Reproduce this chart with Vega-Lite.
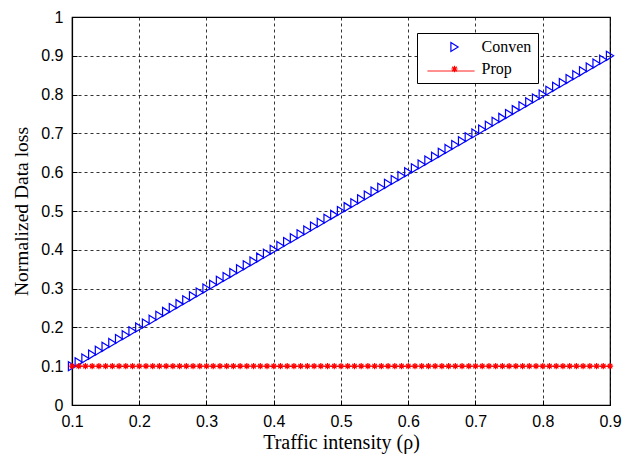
{
  "$schema": "https://vega.github.io/schema/vega-lite/v6.json",
  "width": 538,
  "height": 388,
  "autosize": "none",
  "padding": {"left": 72, "top": 17, "right": 14, "bottom": 53},
  "background": "white",
  "config": {
    "view": {"stroke": "black", "strokeWidth": 1.2},
    "axis": {
      "domainColor": "black", "domainWidth": 1.2,
      "grid": true, "gridColor": "black", "gridDash": [3, 3], "gridOpacity": 1, "gridWidth": 0.8,
      "tickColor": "black", "tickSize": -5, "tickWidth": 1, "labelFlush": false,
      "labelFont": "Liberation Sans", "labelFontSize": 16, "labelColor": "black",
      "titleFont": "Liberation Serif", "titleFontWeight": "normal", "titleColor": "black"
    }
  },
  "datasets": {
    "series": [
      {"series":"Conven","rho":0.10,"loss":0.10},{"series":"Conven","rho":0.11,"loss":0.11},{"series":"Conven","rho":0.12,"loss":0.12},{"series":"Conven","rho":0.13,"loss":0.13},{"series":"Conven","rho":0.14,"loss":0.14},{"series":"Conven","rho":0.15,"loss":0.15},{"series":"Conven","rho":0.16,"loss":0.16},{"series":"Conven","rho":0.17,"loss":0.17},{"series":"Conven","rho":0.18,"loss":0.18},{"series":"Conven","rho":0.19,"loss":0.19},
      {"series":"Conven","rho":0.20,"loss":0.20},{"series":"Conven","rho":0.21,"loss":0.21},{"series":"Conven","rho":0.22,"loss":0.22},{"series":"Conven","rho":0.23,"loss":0.23},{"series":"Conven","rho":0.24,"loss":0.24},{"series":"Conven","rho":0.25,"loss":0.25},{"series":"Conven","rho":0.26,"loss":0.26},{"series":"Conven","rho":0.27,"loss":0.27},{"series":"Conven","rho":0.28,"loss":0.28},{"series":"Conven","rho":0.29,"loss":0.29},
      {"series":"Conven","rho":0.30,"loss":0.30},{"series":"Conven","rho":0.31,"loss":0.31},{"series":"Conven","rho":0.32,"loss":0.32},{"series":"Conven","rho":0.33,"loss":0.33},{"series":"Conven","rho":0.34,"loss":0.34},{"series":"Conven","rho":0.35,"loss":0.35},{"series":"Conven","rho":0.36,"loss":0.36},{"series":"Conven","rho":0.37,"loss":0.37},{"series":"Conven","rho":0.38,"loss":0.38},{"series":"Conven","rho":0.39,"loss":0.39},
      {"series":"Conven","rho":0.40,"loss":0.40},{"series":"Conven","rho":0.41,"loss":0.41},{"series":"Conven","rho":0.42,"loss":0.42},{"series":"Conven","rho":0.43,"loss":0.43},{"series":"Conven","rho":0.44,"loss":0.44},{"series":"Conven","rho":0.45,"loss":0.45},{"series":"Conven","rho":0.46,"loss":0.46},{"series":"Conven","rho":0.47,"loss":0.47},{"series":"Conven","rho":0.48,"loss":0.48},{"series":"Conven","rho":0.49,"loss":0.49},
      {"series":"Conven","rho":0.50,"loss":0.50},{"series":"Conven","rho":0.51,"loss":0.51},{"series":"Conven","rho":0.52,"loss":0.52},{"series":"Conven","rho":0.53,"loss":0.53},{"series":"Conven","rho":0.54,"loss":0.54},{"series":"Conven","rho":0.55,"loss":0.55},{"series":"Conven","rho":0.56,"loss":0.56},{"series":"Conven","rho":0.57,"loss":0.57},{"series":"Conven","rho":0.58,"loss":0.58},{"series":"Conven","rho":0.59,"loss":0.59},
      {"series":"Conven","rho":0.60,"loss":0.60},{"series":"Conven","rho":0.61,"loss":0.61},{"series":"Conven","rho":0.62,"loss":0.62},{"series":"Conven","rho":0.63,"loss":0.63},{"series":"Conven","rho":0.64,"loss":0.64},{"series":"Conven","rho":0.65,"loss":0.65},{"series":"Conven","rho":0.66,"loss":0.66},{"series":"Conven","rho":0.67,"loss":0.67},{"series":"Conven","rho":0.68,"loss":0.68},{"series":"Conven","rho":0.69,"loss":0.69},
      {"series":"Conven","rho":0.70,"loss":0.70},{"series":"Conven","rho":0.71,"loss":0.71},{"series":"Conven","rho":0.72,"loss":0.72},{"series":"Conven","rho":0.73,"loss":0.73},{"series":"Conven","rho":0.74,"loss":0.74},{"series":"Conven","rho":0.75,"loss":0.75},{"series":"Conven","rho":0.76,"loss":0.76},{"series":"Conven","rho":0.77,"loss":0.77},{"series":"Conven","rho":0.78,"loss":0.78},{"series":"Conven","rho":0.79,"loss":0.79},
      {"series":"Conven","rho":0.80,"loss":0.80},{"series":"Conven","rho":0.81,"loss":0.81},{"series":"Conven","rho":0.82,"loss":0.82},{"series":"Conven","rho":0.83,"loss":0.83},{"series":"Conven","rho":0.84,"loss":0.84},{"series":"Conven","rho":0.85,"loss":0.85},{"series":"Conven","rho":0.86,"loss":0.86},{"series":"Conven","rho":0.87,"loss":0.87},{"series":"Conven","rho":0.88,"loss":0.88},{"series":"Conven","rho":0.89,"loss":0.89},
      {"series":"Conven","rho":0.90,"loss":0.90},
      {"series":"Prop","rho":0.10,"loss":0.1},{"series":"Prop","rho":0.11,"loss":0.1},{"series":"Prop","rho":0.12,"loss":0.1},{"series":"Prop","rho":0.13,"loss":0.1},{"series":"Prop","rho":0.14,"loss":0.1},{"series":"Prop","rho":0.15,"loss":0.1},{"series":"Prop","rho":0.16,"loss":0.1},{"series":"Prop","rho":0.17,"loss":0.1},{"series":"Prop","rho":0.18,"loss":0.1},{"series":"Prop","rho":0.19,"loss":0.1},
      {"series":"Prop","rho":0.20,"loss":0.1},{"series":"Prop","rho":0.21,"loss":0.1},{"series":"Prop","rho":0.22,"loss":0.1},{"series":"Prop","rho":0.23,"loss":0.1},{"series":"Prop","rho":0.24,"loss":0.1},{"series":"Prop","rho":0.25,"loss":0.1},{"series":"Prop","rho":0.26,"loss":0.1},{"series":"Prop","rho":0.27,"loss":0.1},{"series":"Prop","rho":0.28,"loss":0.1},{"series":"Prop","rho":0.29,"loss":0.1},
      {"series":"Prop","rho":0.30,"loss":0.1},{"series":"Prop","rho":0.31,"loss":0.1},{"series":"Prop","rho":0.32,"loss":0.1},{"series":"Prop","rho":0.33,"loss":0.1},{"series":"Prop","rho":0.34,"loss":0.1},{"series":"Prop","rho":0.35,"loss":0.1},{"series":"Prop","rho":0.36,"loss":0.1},{"series":"Prop","rho":0.37,"loss":0.1},{"series":"Prop","rho":0.38,"loss":0.1},{"series":"Prop","rho":0.39,"loss":0.1},
      {"series":"Prop","rho":0.40,"loss":0.1},{"series":"Prop","rho":0.41,"loss":0.1},{"series":"Prop","rho":0.42,"loss":0.1},{"series":"Prop","rho":0.43,"loss":0.1},{"series":"Prop","rho":0.44,"loss":0.1},{"series":"Prop","rho":0.45,"loss":0.1},{"series":"Prop","rho":0.46,"loss":0.1},{"series":"Prop","rho":0.47,"loss":0.1},{"series":"Prop","rho":0.48,"loss":0.1},{"series":"Prop","rho":0.49,"loss":0.1},
      {"series":"Prop","rho":0.50,"loss":0.1},{"series":"Prop","rho":0.51,"loss":0.1},{"series":"Prop","rho":0.52,"loss":0.1},{"series":"Prop","rho":0.53,"loss":0.1},{"series":"Prop","rho":0.54,"loss":0.1},{"series":"Prop","rho":0.55,"loss":0.1},{"series":"Prop","rho":0.56,"loss":0.1},{"series":"Prop","rho":0.57,"loss":0.1},{"series":"Prop","rho":0.58,"loss":0.1},{"series":"Prop","rho":0.59,"loss":0.1},
      {"series":"Prop","rho":0.60,"loss":0.1},{"series":"Prop","rho":0.61,"loss":0.1},{"series":"Prop","rho":0.62,"loss":0.1},{"series":"Prop","rho":0.63,"loss":0.1},{"series":"Prop","rho":0.64,"loss":0.1},{"series":"Prop","rho":0.65,"loss":0.1},{"series":"Prop","rho":0.66,"loss":0.1},{"series":"Prop","rho":0.67,"loss":0.1},{"series":"Prop","rho":0.68,"loss":0.1},{"series":"Prop","rho":0.69,"loss":0.1},
      {"series":"Prop","rho":0.70,"loss":0.1},{"series":"Prop","rho":0.71,"loss":0.1},{"series":"Prop","rho":0.72,"loss":0.1},{"series":"Prop","rho":0.73,"loss":0.1},{"series":"Prop","rho":0.74,"loss":0.1},{"series":"Prop","rho":0.75,"loss":0.1},{"series":"Prop","rho":0.76,"loss":0.1},{"series":"Prop","rho":0.77,"loss":0.1},{"series":"Prop","rho":0.78,"loss":0.1},{"series":"Prop","rho":0.79,"loss":0.1},
      {"series":"Prop","rho":0.80,"loss":0.1},{"series":"Prop","rho":0.81,"loss":0.1},{"series":"Prop","rho":0.82,"loss":0.1},{"series":"Prop","rho":0.83,"loss":0.1},{"series":"Prop","rho":0.84,"loss":0.1},{"series":"Prop","rho":0.85,"loss":0.1},{"series":"Prop","rho":0.86,"loss":0.1},{"series":"Prop","rho":0.87,"loss":0.1},{"series":"Prop","rho":0.88,"loss":0.1},{"series":"Prop","rho":0.89,"loss":0.1},
      {"series":"Prop","rho":0.90,"loss":0.1}
    ]
  },
  "data": {"name": "series"},
  "encoding": {
    "x": {"field": "rho", "type": "quantitative", "scale": {"domain": [0.1, 0.9], "nice": false, "zero": false},
      "axis": {"title": "Traffic intensity (ρ)", "titleFontSize": 20, "values": [0.1,0.2,0.3,0.4,0.5,0.6,0.7,0.8,0.9], "format": ".1~f", "labelPadding": 13, "titlePadding": 3}},
    "y": {"field": "loss", "type": "quantitative", "scale": {"domain": [0, 1], "nice": false},
      "axis": {"title": "Normalized Data loss", "titleFontSize": 19.5, "values": [0,0.1,0.2,0.3,0.4,0.5,0.6,0.7,0.8,0.9,1], "format": ".1~f", "labelPadding": 14, "titlePadding": 9}}
  },
  "layer": [
    {
      "mark": {"type": "point", "filled": false, "strokeWidth": 1.2, "opacity": 1, "size": 81, "clip": false},
      "encoding": {
        "shape": {"field": "series", "type": "nominal",
          "scale": {"domain": ["Conven", "Prop"], "range": ["M-0.8,-1L0.8,0L-0.8,1Z", "M0,-0.7L0,0.7M-0.7,0L0.7,0M-0.5,-0.5L0.5,0.5M-0.5,0.5L0.5,-0.5"]},
          "legend": {
            "title": null, "orient": "none", "legendX": 345, "legendY": 16, "zindex": 1,
            "strokeColor": "black", "fillColor": "white", "padding": 6,
            "labelFont": "Liberation Serif", "labelFontSize": 16, "labelColor": "black",
            "symbolSize": 81, "symbolOffset": 23.5, "labelOffset": 19, "rowPadding": 6,
            "symbolStrokeWidth": 1.2
          }},
        "color": {"field": "series", "type": "nominal",
          "scale": {"domain": ["Conven", "Prop"], "range": ["#0000ff", "#ff0000"]},
          "legend": {
            "title": null, "orient": "none", "legendX": 345, "legendY": 16, "zindex": 1,
            "strokeColor": "black", "fillColor": "white", "padding": 6,
            "labelFont": "Liberation Serif", "labelFontSize": 16, "labelColor": "black",
            "symbolSize": 81, "symbolOffset": 23.5, "labelOffset": 19, "rowPadding": 6,
            "symbolStrokeWidth": 1.2
          }}
      }
    },
    {
      "transform": [{"filter": "datum.series === 'Prop'"}],
      "mark": {"type": "line", "color": "#ff0000", "strokeWidth": 1, "clip": false},
      "encoding": {
        "strokeDash": {"field": "series", "type": "nominal",
          "scale": {"domain": ["Prop"], "range": [[1, 0]]},
          "legend": {
            "title": null, "orient": "none", "legendX": 355, "legendY": 30, "zindex": 2,
            "padding": 0, "labelExpr": "''", "labelFontSize": 16,
            "symbolType": "stroke", "symbolSize": 2209, "symbolStrokeColor": "#ff0000", "symbolStrokeWidth": 1,
            "symbolOffset": 0
          }}
      }
    }
  ]
}
